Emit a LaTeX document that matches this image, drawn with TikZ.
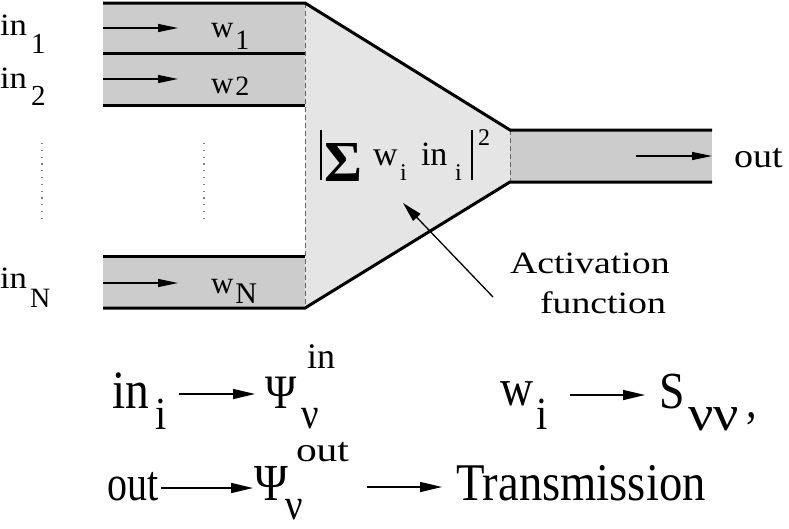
\documentclass[tikz,border=0pt]{standalone}
\usepackage{fontspec}
\setmainfont{Liberation Serif}
\newfontfamily\lsw{Liberation Serif}[FakeStretch=1.22]
\newfontfamily\lsm{Liberation Serif}[FakeStretch=1.12]
\newfontfamily\lsc{Liberation Serif}[FakeStretch=0.88]
\newfontfamily\lsx{Liberation Serif}[FakeStretch=0.8]
\usetikzlibrary{arrows.meta}
\definecolor{bandgray}{gray}{0.8}
\definecolor{trapgray}{gray}{0.9}
\definecolor{dashgray}{gray}{0.4}
\newcommand{\pc}[3]{\rlap{\hspace*{#1pt}\raisebox{#2pt}{#3}}}
\newcommand{\fs}[1]{\fontsize{#1}{#1}\selectfont}
\begin{document}
\begin{tikzpicture}[x=1pt,y=-1pt,
  wg/.style={line width=3pt,line join=miter},
  sig/.style={line width=1.3pt,-{Triangle[length=20pt,width=8pt]}},
  bigarrow/.style={line width=1.5pt,-{Triangle[length=22pt,width=10pt]}},
  lab/.style={anchor=base west,inner sep=0pt,outer sep=0pt},
  gd/.style={draw=dashgray,line width=1pt,dash pattern=on 5pt off 3pt},
  dotl/.style={draw=gray,line width=1.2pt,dash pattern=on 1.2pt off 5.6pt}]
\useasboundingbox (0,0) rectangle (789,528);
% fills
\fill[trapgray] (305,3) -- (510,130) -- (510,182) -- (305,308) -- cycle;
\fill[bandgray] (103,3) rectangle (305,105);
\fill[bandgray] (103,256) rectangle (305,308);
\fill[bandgray] (510,130) rectangle (712,182);
% dashed ports
\draw[gd] (305,3) -- (305,308);
\draw[gd] (510,130) -- (510,182);
% waveguide walls
\draw[wg] (103,3) -- (305,3) -- (510,130) -- (712,130);
\draw[wg] (103,308) -- (305,308) -- (510,182) -- (712,182);
\draw[wg] (103,53) -- (305,53);
\draw[wg] (103,105) -- (305,105);
\draw[wg] (103,256) -- (305,256);
% dotted ellipsis
\draw[dotl] (42,143) -- (42,220);
\draw[dotl] (204,143) -- (204,220);
% signal arrows
\coordinate (s1a) at (103,28); \coordinate (s1b) at (178,28);
\coordinate (s2a) at (103,79); \coordinate (s2b) at (178,79);
\coordinate (sNa) at (103,283); \coordinate (sNb) at (178,283);
\coordinate (soa) at (636,156); \coordinate (sob) at (712,156);
\draw[sig] (s1a) -- (s1b);
\draw[sig] (s2a) -- (s2b);
\draw[sig] (sNa) -- (sNb);
\draw[sig] (soa) -- (sob);
% labels
\node[lab] (in1) at (0,35) {{\fs{31}\lsm in}\hspace{4pt}\raisebox{-18pt}{\fs{29}1}};
\node[lab] (in2) at (0,88) {{\fs{31}\lsm in}\hspace{4pt}\raisebox{-17pt}{\fs{29}2}};
\node[lab] (inN) at (0,288) {{\fs{31}\lsm in}\hspace{3pt}\raisebox{-19pt}{\fs{28}N}};
\node[lab] (w1) at (211,37) {\fs{31}w\hspace{2pt}\raisebox{-12pt}{\fs{28}1}};
\node[lab] (w2) at (211,93) {\fs{31}w\hspace{2pt}\raisebox{-2pt}{\fs{28}2}};
\node[lab] (wN) at (211,293) {\fs{31}w\hspace{2pt}\raisebox{-10pt}{\fs{30}N}};
\node[lab] (out) at (734,167) {\fs{34}\lsm out};
% activation
\node[lab] (sum) at (320,165) {%
  \pc{0}{-15}{\rule{1.6pt}{50pt}}%
  \pc{4}{-16}{\fs{58}\bfseries Σ}%
  \pc{53}{0}{\fs{34}w}%
  \pc{80}{-15}{\fs{24}i}%
  \pc{101}{0}{\fs{34}in}%
  \pc{135}{-15}{\fs{24}i}%
  \pc{151}{-15}{\rule{1.6pt}{50pt}}%
  \pc{158}{20}{\fs{24}2}%
  \hspace*{172pt}};
\node[lab] (act1) at (510,273) {\fs{31}\lsw Activation};
\node[lab] (act2) at (540,313) {\fs{31}\lsw function};
\coordinate (acttail) at (493,297);
\coordinate (acttip) at (403,203);
\draw[line width=1.3pt,-{Triangle[length=20pt,width=10pt]}] (acttail) -- (acttip);
% bottom equations
\node[lab] (ini) at (112,408) {%
  \pc{0}{0}{\fs{54}\lsc in}%
  \pc{43}{-21}{\fs{46}\lsc i}%
  \hspace*{58pt}};
\node[lab] (psiin) at (265,408) {%
  \pc{0}{0}{\fs{48}\lsc Ψ}%
  \pc{42}{40}{\fs{36}in}%
  \pc{36}{-20}{\fs{44}\lsc ν}%
  \hspace*{75pt}};
\coordinate (a1s) at (179,394); \coordinate (a1e) at (255,394);
\draw[bigarrow] (a1s) -- (a1e);
\node[lab] (wi) at (500,405) {%
  \pc{0}{0}{\fs{52}\lsc w}%
  \pc{36}{-24}{\fs{46}\lsc i}%
  \hspace*{50pt}};
\node[lab] (snn) at (659,408) {%
  \pc{0}{0}{\fs{52}\lsc S}%
  \pc{29}{-22}{\fs{50}\lsm νν}%
  \pc{87}{-9}{\fs{48}\lsc ,}%
  \hspace*{100pt}};
\coordinate (a2s) at (570,395); \coordinate (a2e) at (645,395);
\draw[bigarrow] (a2s) -- (a2e);
\node[lab] (outb) at (107,500) {\fs{50}\lsx out};
\node[lab] (psiout) at (254,500) {%
  \pc{0}{0}{\fs{52}\lsc Ψ}%
  \pc{42}{39}{\fs{34}\lsw out}%
  \pc{31}{-19}{\fs{44}\lsc ν}%
  \hspace*{105pt}};
\node[lab] (trans) at (456,500) {\fs{53}\lsc Transmission};
\coordinate (a3s) at (161,488); \coordinate (a3e) at (253,488);
\coordinate (a4s) at (367,487); \coordinate (a4e) at (442,487);
\draw[bigarrow] (a3s) -- (a3e);
\draw[bigarrow] (a4s) -- (a4e);
\end{tikzpicture}
\end{document}
